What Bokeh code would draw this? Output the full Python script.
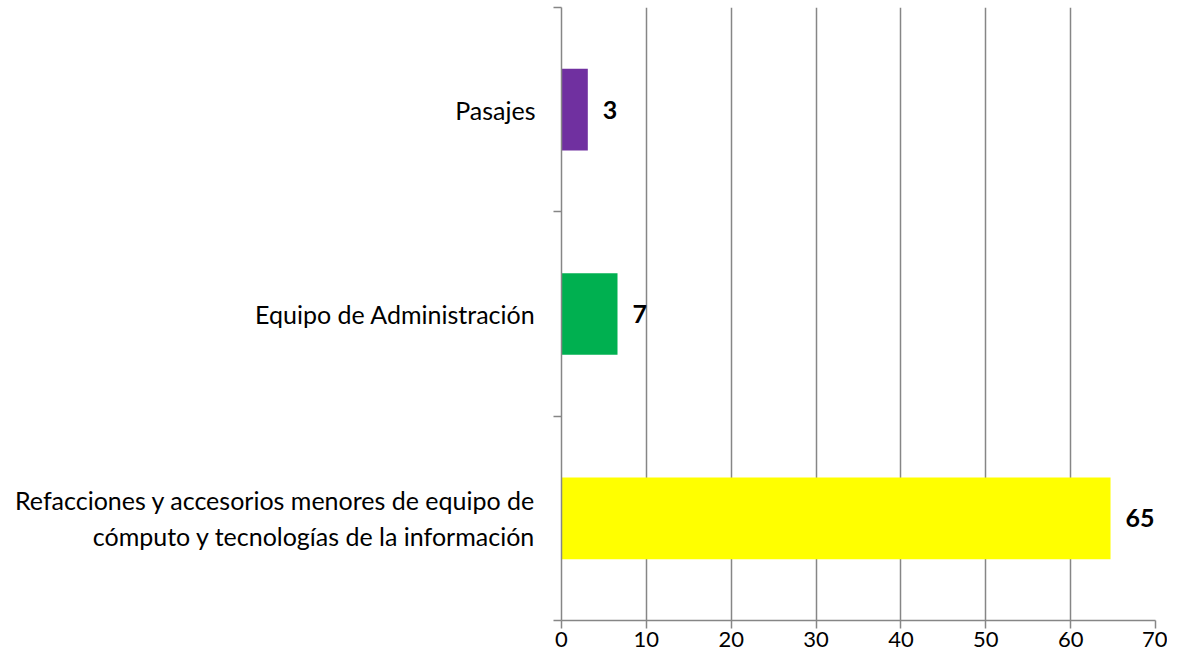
from bokeh.plotting import figure
from bokeh.models import Range1d, FixedTicker
from bokeh.core.properties import value
from bokeh.embed import file_html
from bokeh.resources import INLINE

categories = [
    "Refacciones y accesorios menores de equipo de\ncómputo y tecnologías de la información",
    "Equipo de Administración",
    "Pasajes",
]
values = [64.7, 6.6, 3.1]
labels = ["65", "7", "3"]
colors = ["#FFFF00", "#00B050", "#7030A0"]
x_ticks = [0, 10, 20, 30, 40, 50, 60, 70]

FONT = "Lato"
GRAY = "#868686"
LW = 1.5

ypos = [i + 0.5 for i in range(len(categories))]
bounds = [float(i) for i in range(len(categories) + 1)]

p = figure(width=1167, height=654, output_backend="svg", toolbar_location=None,
           x_range=Range1d(0, 70), y_range=Range1d(0, len(categories)),
           min_border_left=561, min_border_right=12, min_border_top=7, min_border_bottom=34)
p.outline_line_color = None
p.background_fill_color = "white"

p.hbar(y=ypos, right=values, left=0, height=0.4, color=colors, line_color=None)
p.text(x=values, y=ypos, text=labels, x_offset=15, text_baseline="middle", text_align="left",
       text_font=value(FONT), text_font_style="bold", text_font_size="25px", text_color="black")

# x axis
p.xaxis.ticker = FixedTicker(ticks=x_ticks, minor_ticks=[])
p.xaxis.axis_line_color = GRAY
p.xaxis.axis_line_width = LW
p.xaxis.major_tick_line_color = GRAY
p.xaxis.major_tick_line_width = LW
p.xaxis.major_tick_out = 8
p.xaxis.major_tick_in = 0
p.xaxis.major_label_text_font = FONT
p.xaxis.major_label_text_font_size = "22px"
p.xaxis.major_label_text_color = "black"
p.xaxis.major_label_standoff = 3

# y axis
p.yaxis.ticker = FixedTicker(ticks=ypos, minor_ticks=bounds)
p.yaxis.major_label_overrides = {y: c for y, c in zip(ypos, categories)}
p.yaxis.axis_line_color = GRAY
p.yaxis.axis_line_width = LW
p.yaxis.major_tick_line_color = None
p.yaxis.major_tick_out = 0
p.yaxis.major_tick_in = 0
p.yaxis.minor_tick_line_color = GRAY
p.yaxis.minor_tick_line_width = LW
p.yaxis.minor_tick_out = 8
p.yaxis.minor_tick_in = 0
p.yaxis.major_label_text_font = FONT
p.yaxis.major_label_text_font_size = "25px"
p.yaxis.major_label_text_color = "black"
p.yaxis.major_label_standoff = 18

p.xgrid.grid_line_color = GRAY
p.xgrid.grid_line_width = LW
p.xgrid.ticker = FixedTicker(ticks=x_ticks)
p.ygrid.grid_line_color = None

open("out.html", "w").write(file_html(p, INLINE))
